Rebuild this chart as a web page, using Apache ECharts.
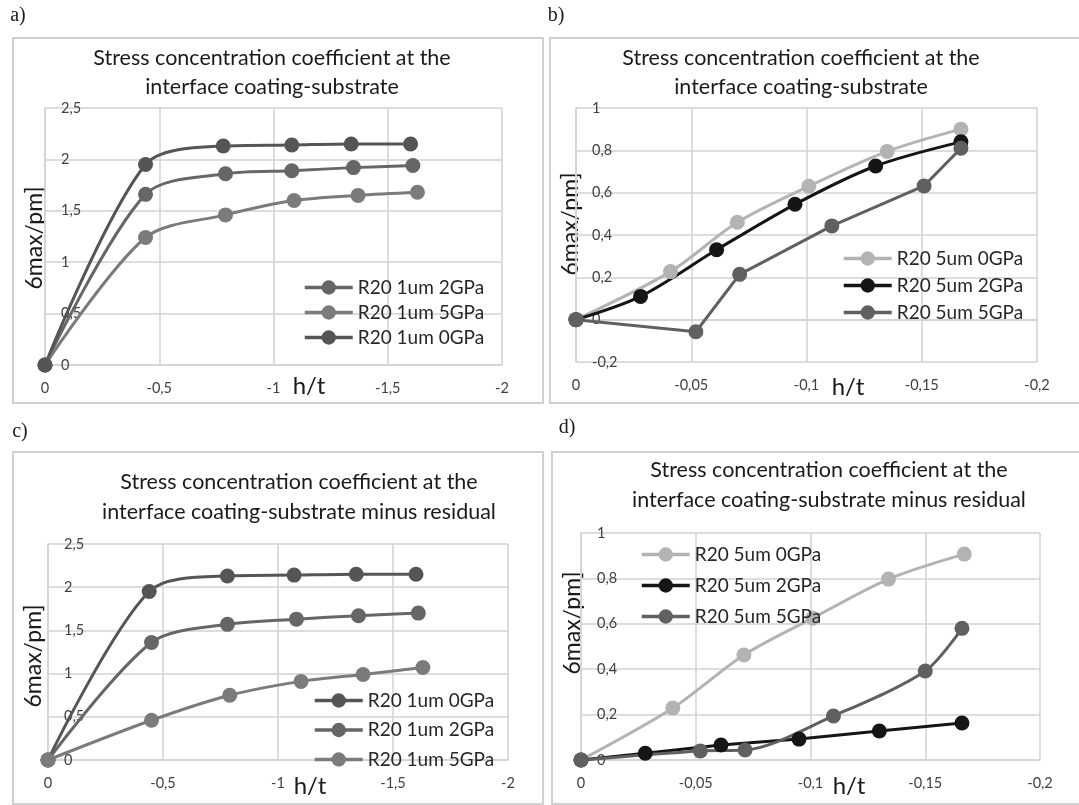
<!DOCTYPE html>
<html>
<head>
<meta charset="utf-8">
<script src="https://cdn.jsdelivr.net/npm/echarts@6/dist/echarts.min.js"></script>
<style>
  html, body { margin: 0; padding: 0; background: #fff; }
  #main { width: 1079px; height: 805px; }
</style>
</head>
<body>
<div id="main"></div>
<script>
// panel a) - 1um coating
var aX0 = [0, -0.44, -0.78, -1.08, -1.34, -1.60];
var aY0 = [0, 1.95, 2.13, 2.14, 2.15, 2.15];
var aX2 = [0, -0.44, -0.79, -1.08, -1.35, -1.61];
var aY2 = [0, 1.66, 1.86, 1.89, 1.92, 1.94];
var aX5 = [0, -0.44, -0.79, -1.09, -1.37, -1.63];
var aY5 = [0, 1.24, 1.46, 1.60, 1.65, 1.68];

// panel b) - 5um coating
var bX0 = [0, -0.041, -0.070, -0.101, -0.135, -0.167];
var bY0 = [0, 0.227, 0.46, 0.63, 0.795, 0.90];
var bX2 = [0, -0.028, -0.061, -0.095, -0.130, -0.167];
var bY2 = [0, 0.11, 0.33, 0.545, 0.726, 0.84];
var bX5 = [0, -0.052, -0.071, -0.111, -0.151, -0.167];
var bY5 = [0, -0.057, 0.214, 0.443, 0.632, 0.81];

// panel c) - 1um minus residual
var cX0 = [0, -0.44, -0.78, -1.07, -1.34, -1.60];
var cY0 = [0, 1.95, 2.13, 2.14, 2.15, 2.15];
var cX2 = [0, -0.45, -0.78, -1.08, -1.35, -1.61];
var cY2 = [0, 1.36, 1.57, 1.63, 1.67, 1.70];
var cX5 = [0, -0.45, -0.79, -1.10, -1.37, -1.63];
var cY5 = [0, 0.46, 0.75, 0.91, 0.99, 1.07];

// panel d) - 5um minus residual
var dX0 = [0, -0.040, -0.071, -0.101, -0.134, -0.167];
var dY0 = [0, 0.229, 0.463, 0.625, 0.797, 0.907];
var dX2 = [0, -0.028, -0.061, -0.095, -0.130, -0.166];
var dY2 = [0, 0.03, 0.066, 0.092, 0.128, 0.163];
var dX5 = [0, -0.052, -0.0715, -0.110, -0.150, -0.166];
var dY5 = [0, 0.04, 0.044, 0.194, 0.392, 0.58];

var title1 = 'Stress concentration coefficient at the';
var title2a = 'interface coating-substrate';
var title2c = 'interface coating-substrate minus residual';
var yName = '6max/pm]';
var xName = 'h/t';

var FONT = 'Lato, "Open Sans", sans-serif';
var SERIF = '"Liberation Serif", "DejaVu Serif", serif';
var GRIDC = '#d2d2d2';

var chart = echarts.init(document.getElementById('main'));

function fmt(v) {
    return String(+v.toFixed(3)).replace('.', ',');
}

function ser(name, xs, ys, color, idx, smooth) {
    return {
        name: name,
        type: 'line',
        xAxisIndex: idx,
        yAxisIndex: idx,
        data: xs.map(function (x, i) { return [x, ys[i]]; }),
        smooth: smooth ? 0.3 : false,
        symbol: 'circle',
        symbolSize: 15,
        lineStyle: { color: color, width: 3 },
        itemStyle: { color: color },
        animation: false
    };
}

function xAx(idx, min, interval) {
    return {
        type: 'value', gridIndex: idx, min: min, max: 0, interval: interval, inverse: true,
        axisLine: { onZero: true, lineStyle: { color: GRIDC, width: 1.5 } },
        axisTick: { show: false },
        splitLine: { lineStyle: { color: GRIDC, width: 1.5 } },
        axisLabel: { formatter: fmt, color: '#404040', fontSize: 14.5, fontFamily: FONT, margin: 16 }
    };
}

function yAx(idx, min, max, interval) {
    return {
        type: 'value', gridIndex: idx, min: min, max: max, interval: interval,
        axisLine: { show: true, onZero: false, lineStyle: { color: GRIDC, width: 1.5 } },
        axisTick: { show: false },
        splitLine: { lineStyle: { color: GRIDC, width: 1.5 } },
        axisLabel: { inside: true, formatter: fmt, color: '#404040', fontSize: 14.5, fontFamily: FONT, margin: 16 }
    };
}

function legend(names, left, top, gap) {
    return {
        orient: 'vertical', left: left, top: top, padding: 0,
        itemWidth: 48, itemHeight: 18, itemGap: gap,
        selectedMode: false, data: names,
        lineStyle: { width: 3.5 },
        textStyle: { fontSize: 19, color: '#262626', fontFamily: FONT, lineHeight: 18 }
    };
}

function txt(s, x, y, size, family, rot) {
    return {
        type: 'text', x: x, y: y, rotation: rot || 0, silent: true,
        style: {
            text: s, fill: '#1a1a1a', fontSize: size, fontFamily: family,
            align: 'center', verticalAlign: 'middle',
            textAlign: 'center', textVerticalAlign: 'middle'
        }
    };
}

function box(x, y, w, h) {
    return { type: 'rect', shape: { x: x, y: y, width: w, height: h }, silent: true,
        style: { fill: 'none', stroke: '#d0d0d0', lineWidth: 2 } };
}

var C0 = '#555555', C2 = '#666666', C5 = '#7b7b7b';
var L0 = '#b3b3b3', L2 = '#151515', L5 = '#606060';

var option = {
    backgroundColor: '#fff',
    grid: [
        { left: 45, top: 108, width: 457, height: 257 },
        { left: 576, top: 108, width: 461, height: 254 },
        { left: 48, top: 544, width: 460, height: 216 },
        { left: 581, top: 533, width: 459, height: 227 }
    ],
    xAxis: [xAx(0, -2, 0.5), xAx(1, -0.2, 0.05), xAx(2, -2, 0.5), xAx(3, -0.2, 0.05)],
    yAxis: [yAx(0, 0, 2.5, 0.5), yAx(1, -0.2, 1, 0.2), yAx(2, 0, 2.5, 0.5), yAx(3, 0, 1, 0.2)],
    legend: [
        legend(['R20 1um 2GPa', 'R20 1um 5GPa', 'R20 1um 0GPa'], 303, 278, 6),
        legend(['R20 5um 0GPa', 'R20 5um 2GPa', 'R20 5um 5GPa'], 842, 249, 8),
        legend(['R20 1um 0GPa ', 'R20 1um 2GPa ', 'R20 1um 5GPa '], 313, 691, 10.5),
        legend(['R20 5um 0GPa ', 'R20 5um 2GPa ', 'R20 5um 5GPa '], 640, 545, 12)
    ],
    series: [
        ser('R20 1um 2GPa', aX2, aY2, C2, 0, true),
        ser('R20 1um 5GPa', aX5, aY5, C5, 0, true),
        ser('R20 1um 0GPa', aX0, aY0, C0, 0, true),

        ser('R20 5um 0GPa', bX0, bY0, L0, 1, true),
        ser('R20 5um 2GPa', bX2, bY2, L2, 1, true),
        ser('R20 5um 5GPa', bX5, bY5, L5, 1, false),

        ser('R20 1um 0GPa ', cX0, cY0, C0, 2, true),
        ser('R20 1um 2GPa ', cX2, cY2, C2, 2, true),
        ser('R20 1um 5GPa ', cX5, cY5, C5, 2, true),

        ser('R20 5um 0GPa ', dX0, dY0, L0, 3, true),
        ser('R20 5um 2GPa ', dX2, dY2, L2, 3, false),
        ser('R20 5um 5GPa ', dX5, dY5, L5, 3, true)
    ],
    graphic: [
        box(13, 38, 530, 365),
        box(550, 38, 540, 365),
        box(13, 452, 530, 352),
        box(552, 452, 540, 352),

        txt('a)', 18, 16, 20, SERIF),
        txt('b)', 556, 16, 20, SERIF),
        txt('c)', 20, 432, 20, SERIF),
        txt('d)', 567, 428, 20, SERIF),

        txt(title1, 272, 58, 21.5, FONT),
        txt(title2a, 272, 87, 21.5, FONT),
        txt(title1, 801, 58, 21.5, FONT),
        txt(title2a, 801, 87, 21.5, FONT),
        txt(title1, 299, 482, 21.5, FONT),
        txt(title2c, 299, 512, 21.5, FONT),
        txt(title1, 829, 470, 21.5, FONT),
        txt(title2c, 829, 500, 21.5, FONT),

        txt(yName, 35, 238, 23, FONT, Math.PI / 2),
        txt(yName, 571, 224, 23, FONT, Math.PI / 2),
        txt(yName, 34, 656, 23, FONT, Math.PI / 2),
        txt(yName, 573, 623, 23, FONT, Math.PI / 2),

        txt(xName, 309, 386, 24, FONT),
        txt(xName, 848, 387, 24, FONT),
        txt(xName, 310, 786, 24, FONT),
        txt(xName, 849, 786, 24, FONT)
    ]
};

chart.setOption(option);
</script>
</body>
</html>
